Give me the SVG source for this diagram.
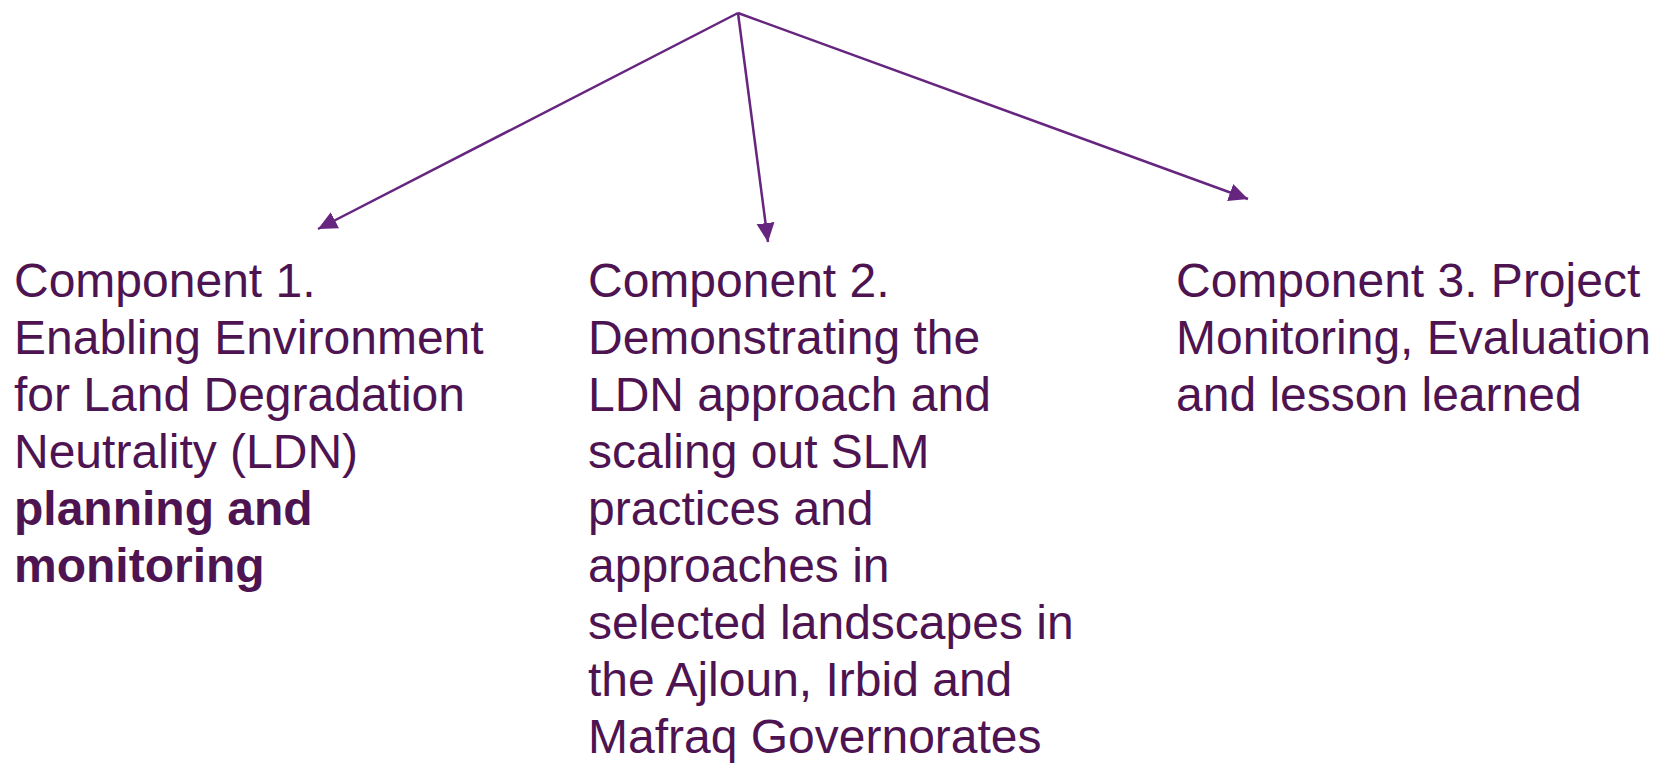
<svg xmlns="http://www.w3.org/2000/svg" width="1654" height="763" viewBox="0 0 1654 763">
  <defs>
    <style>
      .lbl { font-family: "Liberation Sans", Arial, sans-serif; font-size: 48px; fill: #4E1452; }
      .b { font-weight: bold; }
      .conn { stroke: #66257F; stroke-width: 2.5; fill: none; marker-end: url(#head); }
    </style>
    <marker id="head" markerUnits="userSpaceOnUse" markerWidth="20" markerHeight="20" viewBox="0 0 20 20" refX="19" refY="10" orient="auto">
      <path d="M0,1 L19,10 L0,19 Z" fill="#66257F"/>
    </marker>
  </defs>
  <rect width="1654" height="763" fill="#FFFFFF"/>

  <!-- connectors from the common origin to each component -->
  <g id="connectors">
    <line class="conn" x1="738" y1="13" x2="318" y2="229"/>
    <line class="conn" x1="738" y1="13" x2="768" y2="242"/>
    <line class="conn" x1="738" y1="13" x2="1248" y2="199"/>
  </g>

  <g id="component1">
    <text class="lbl" x="14" y="297">Component 1.</text>
    <text class="lbl" x="14" y="354">Enabling Environment</text>
    <text class="lbl" x="14" y="411">for Land Degradation</text>
    <text class="lbl" x="14" y="468">Neutrality (LDN)</text>
    <text class="lbl b" x="14" y="525">planning and</text>
    <text class="lbl b" x="14" y="582">monitoring</text>
  </g>

  <g id="component2">
    <text class="lbl" x="588" y="297">Component 2.</text>
    <text class="lbl" x="588" y="354">Demonstrating the</text>
    <text class="lbl" x="588" y="411">LDN approach and</text>
    <text class="lbl" x="588" y="468">scaling out SLM</text>
    <text class="lbl" x="588" y="525">practices and</text>
    <text class="lbl" x="588" y="582">approaches in</text>
    <text class="lbl" x="588" y="639">selected landscapes in</text>
    <text class="lbl" x="588" y="696">the Ajloun, Irbid and</text>
    <text class="lbl" x="588" y="753">Mafraq Governorates</text>
  </g>

  <g id="component3">
    <text class="lbl" x="1176" y="297">Component 3. Project</text>
    <text class="lbl" x="1176" y="354">Monitoring, Evaluation</text>
    <text class="lbl" x="1176" y="411">and lesson learned</text>
  </g>
</svg>
